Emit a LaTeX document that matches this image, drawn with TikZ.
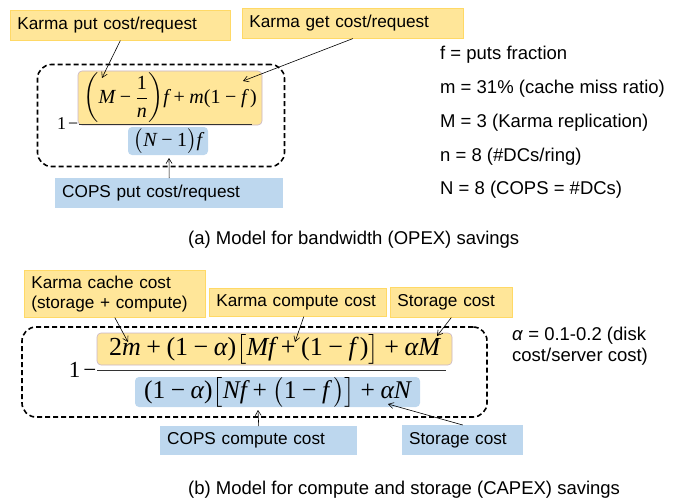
\documentclass[tikz,border=0pt]{standalone}
\usepackage{amsmath}
\usepackage{fontspec}
\setmainfont{Liberation Sans}
\newfontfamily\tms{Liberation Serif}
\usetikzlibrary{arrows.meta,calc}
\definecolor{yfill}{HTML}{FFE699}
\definecolor{ydraw}{HTML}{FFD966}
\definecolor{nbord}{HTML}{C8B4C8}
\definecolor{bfill}{HTML}{BDD7EE}
\newcommand{\vx}[1]{\mathord{\hbox{\tms\itshape #1}}}
\newcommand{\rx}[1]{\mathord{\hbox{\tms #1}}}
\newcommand{\pls}{\mathbin{\hbox{\tms +}}}
\newcommand{\mns}{\mathbin{\hbox{\tms −}}}
\newcommand{\lpx}{\mathopen{\hbox{\tms (}}}
\newcommand{\rpx}{\mathclose{\hbox{\tms )}}}
\begin{document}
\begin{tikzpicture}[x=1pt,y=-1pt,
  lab/.style={font=\fontsize{17.2}{20.5}\selectfont, inner xsep=7pt, inner ysep=0pt, align=left, anchor=north west},
  ylab/.style={lab, fill=yfill, draw=ydraw, line width=0.6pt},
  blab/.style={lab, fill=bfill},
  txt/.style={font=\fontsize{18.5}{21}\selectfont, inner sep=0pt, anchor=west, align=left},
  arr/.style={-{Straight Barb[length=5pt,width=6pt]}, line width=0.6pt},
  dbox/.style={draw=black, line width=1.6pt, dash pattern=on 5pt off 3pt, rounded corners=14pt, inner sep=0pt},
  nbox/.style={fill=yfill, draw=nbord, line width=0.6pt, rounded corners=4pt, inner sep=0pt},
  dnbox/.style={fill=bfill, rounded corners=4pt, inner sep=0pt},
  fline/.style={line width=1pt, draw=black!80}
]
\useasboundingbox (0,0) rectangle (679,500);

% ---------------- part (a) ----------------
\node[dbox, minimum width=247pt, minimum height=102pt] (boxa) at (161,115.5) {};
\node[nbox, minimum width=184pt, minimum height=54pt] (numa) at (170,98)
  {\fontsize{20}{24}\selectfont$\left(\vx{M}\mns\dfrac{\rx{1}}{\vx{n}}\right)\!\vx{f}\pls\vx{m}\lpx\rx{1}\mns\vx{f}\,\rpx$};
\coordinate (fla1) at (79,124);
\coordinate (fla2) at (252,124);
\draw[fline] (fla1) -- (fla2);
\node[dnbox, minimum width=80pt, minimum height=28pt] (dena) at (168,141)
  {\fontsize{20}{24}\selectfont$\big(\vx{N}\mns\rx{1}\big)\vx{f}$};
\node[anchor=base east, inner sep=0pt] (onea) at (78.5,129)
  {\fontsize{18}{20}\selectfont\tms 1\kern2pt−};

\node[ylab, text width=206pt, minimum height=30pt] (kput) at (10,10) {Karma put cost/request};
\node[ylab, text width=207pt, minimum height=30pt] (kget) at (242,8) {Karma get cost/request};
\node[blab, text width=214pt, minimum height=30pt] (cput) at (55,178) {COPS put cost/request};

\coordinate (pa) at (102,78);
\coordinate (ga) at (243,81);
\coordinate (ca) at (169,158);
\draw[arr] (kput.south) -- (pa);
\draw[arr] (kget.south) -- (ga);
\draw[arr] (cput.north) -- (ca);

\node[txt] (v1) at (440,55) {f = puts fraction};
\node[txt] (v2) at (440,89) {m = 31\% (cache miss ratio)};
\node[txt] (v3) at (440,123) {M = 3 (Karma replication)};
\node[txt] (v4) at (440,157) {n = 8 (\#DCs/ring)};
\node[txt] (v5) at (440,190) {N = 8 (COPS = \#DCs)};

\node[txt] (capa) at (188,240) {(a) Model for bandwidth (OPEX) savings};

% ---------------- part (b) ----------------
\node[dbox, minimum width=465pt, minimum height=90pt] (boxb) at (254.5,372) {};
\node[nbox, minimum width=355pt, minimum height=32pt] (numb) at (274.5,349)
  {\fontsize{26}{29}\selectfont$\rx{2}\vx{m}\pls\lpx\rx{1}\mns\vx{α}\rpx\big[\vx{Mf}\pls\lpx\rx{1}\mns\vx{f}\,\rpx\big]\pls\vx{αM}$};
\coordinate (flb1) at (97,370);
\coordinate (flb2) at (446,370);
\draw[fline] (flb1) -- (flb2);
\node[dnbox, minimum width=285pt, minimum height=30pt] (denb) at (277.5,392)
  {\fontsize{25.5}{28}\selectfont$\lpx\rx{1}\mns\vx{α}\rpx\big[\vx{Nf}\pls\big(\rx{1}\mns\vx{f}\,\big)\big]\pls\vx{αN}$};
\node[anchor=base east, inner sep=0pt] (oneb) at (96.5,377)
  {\fontsize{23}{26}\selectfont\tms 1\kern3pt−};

\node[ylab, text width=167pt, minimum height=47pt] (kcache) at (24,270) {Karma cache cost\\(storage + compute)};
\node[ylab, text width=163pt, minimum height=28pt] (kcomp) at (209,288) {Karma compute cost};
\node[ylab, text width=108pt, minimum height=30pt] (stop) at (390,287) {Storage cost};
\node[blab, text width=183pt, minimum height=29pt] (ccomp) at (160,426) {COPS compute cost};
\node[blab, text width=107pt, minimum height=30pt] (sbot) at (402,425) {Storage cost};

\coordinate (pb1) at (128,342);
\coordinate (pb2) at (295,342);
\coordinate (pb3) at (437,336);
\coordinate (pb4) at (258,410);
\coordinate (pb5) at (388,404);
\draw[arr] (kcache.south) -- (pb1);
\draw[arr] ([xshift=6pt]kcomp.south) -- (pb2);
\draw[arr] (stop.south) -- (pb3);
\draw[arr] (ccomp.north) -- (pb4);
\draw[arr] (sbot.north) -- (pb5);

\node[txt] (alpha) at (512,346.5) {\textit{α} = 0.1-0.2 (disk\\cost/server cost)};

\node[txt] (capb) at (188,490) {(b) Model for compute and storage (CAPEX) savings};
\end{tikzpicture}
\end{document}
